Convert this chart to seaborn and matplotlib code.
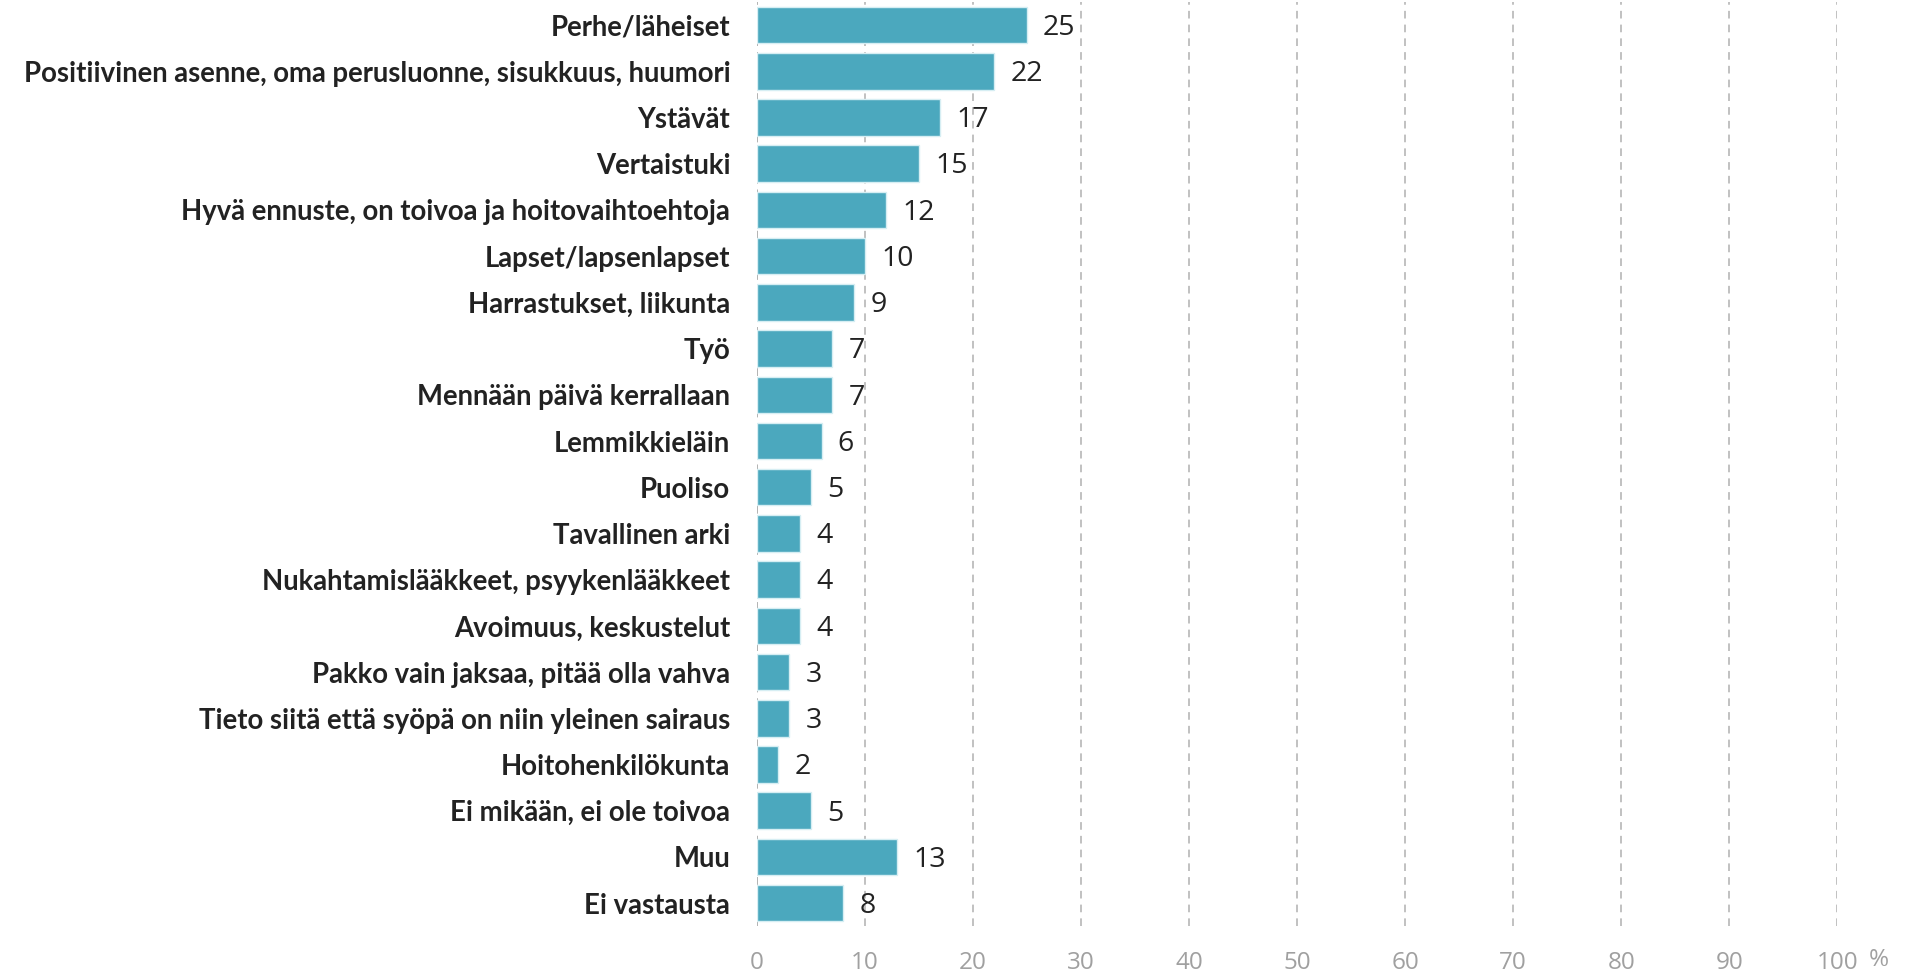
import pandas as pd
import seaborn as sns
import matplotlib.pyplot as plt

# Mikä on auttanut jaksamaan (%)
categories = [
    "Perhe/läheiset",
    "Positiivinen asenne, oma perusluonne, sisukkuus, huumori",
    "Ystävät",
    "Vertaistuki",
    "Hyvä ennuste, on toivoa ja hoitovaihtoehtoja",
    "Lapset/lapsenlapset",
    "Harrastukset, liikunta",
    "Työ",
    "Mennään päivä kerrallaan",
    "Lemmikkieläin",
    "Puoliso",
    "Tavallinen arki",
    "Nukahtamislääkkeet, psyykenlääkkeet",
    "Avoimuus, keskustelut",
    "Pakko vain jaksaa, pitää olla vahva",
    "Tieto siitä että syöpä on niin yleinen sairaus",
    "Hoitohenkilökunta",
    "Ei mikään, ei ole toivoa",
    "Muu",
    "Ei vastausta",
]
values = [25, 22, 17, 15, 12, 10, 9, 7, 7, 6, 5, 4, 4, 4, 3, 3, 2, 5, 13, 8]
xticks = list(range(0, 101, 10))

df = pd.DataFrame({"cat": categories, "val": values})

sns.set_style("white")
plt.rcParams['font.family'] = ['Lato', 'DejaVu Sans']

fig = plt.figure(figsize=(19.06, 9.74), dpi=100)
ax = fig.add_axes([0.397, 0.049, 0.567, 0.949])

sns.barplot(data=df, x="val", y="cat", color="#4BA8BE", saturation=1,
            width=0.79, edgecolor="#d6eef3", linewidth=1, ax=ax, zorder=3)

for i, v in enumerate(values):
    ax.text(v + 1.5, i + 0.06, str(v), va="center", ha="left",
            fontsize=20.5, color="#222222", family=['Open Sans', 'DejaVu Sans'])

ax.set_xlim(0, 100)
ax.set_ylim(len(categories) - 0.5, -0.5)
ax.set_xticks(xticks)
ax.set_xticklabels([str(t) for t in xticks], color="#a0a0a0", fontsize=17.5,
                   family=['Open Sans', 'DejaVu Sans'])
ax.set_yticks(range(len(categories)))
ax.set_yticklabels(categories, fontweight="bold", fontsize=19.8, color="#222222")
ax.tick_params(axis="x", length=0, pad=18)
ax.tick_params(axis="y", length=0, pad=19)

ax.grid(axis="x", color="#b0b0b0", linestyle=(0, (5, 4)), linewidth=1.1, zorder=0)
ax.axvline(0, color="#b0b0b0", linestyle=(0, (5, 4)), linewidth=1.1, zorder=0)
for s in ax.spines.values():
    s.set_visible(False)
ax.set_xlabel("")
ax.set_ylabel("")

fig.text(0.9855, 0.0145, "%", color="#a0a0a0", fontsize=17.5,
         family=['Open Sans', 'DejaVu Sans'], ha="center", va="center")

fig.savefig("out.png", dpi=100)
